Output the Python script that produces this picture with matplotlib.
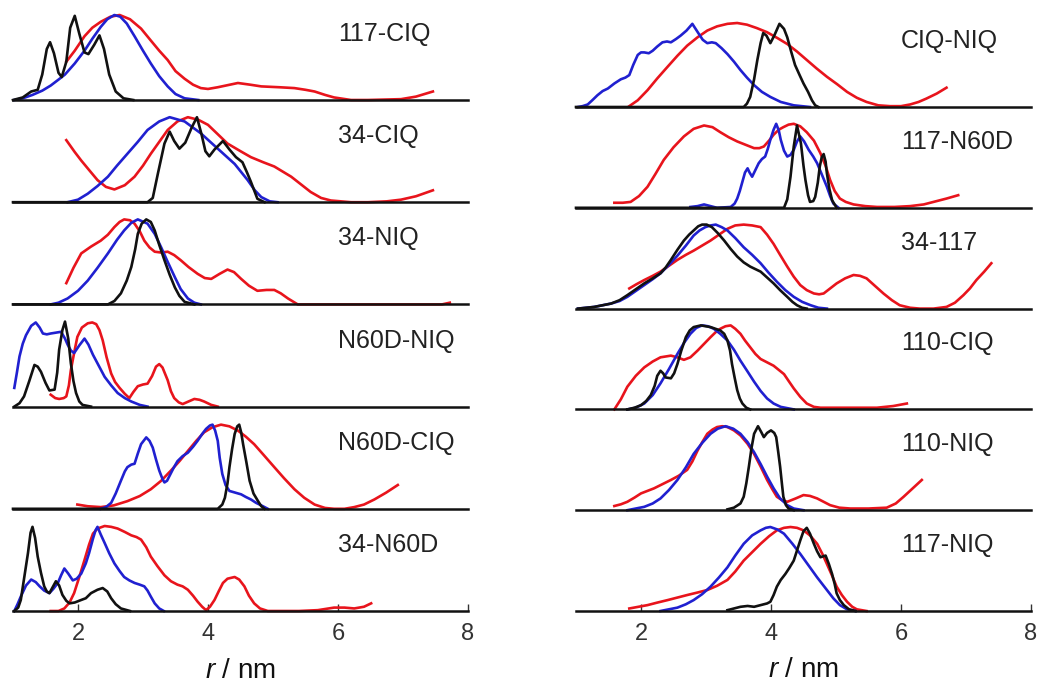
import matplotlib
matplotlib.use("Agg")
import matplotlib.pyplot as plt

plt.rcParams["font.family"] = ["Liberation Sans", "DejaVu Sans"]
plt.rcParams["mathtext.fontset"] = "custom"
plt.rcParams["mathtext.it"] = "Liberation Sans:italic"
plt.rcParams["mathtext.rm"] = "Liberation Sans"

RED = "#e8141c"
BLUE = "#2020d0"
BLACK = "#111111"

# ---- left column ----
# 117-CIQ
l1_k_x = [1.0, 1.15, 1.28, 1.38, 1.45, 1.52, 1.57, 1.63, 1.70, 1.75, 1.82, 1.88, 1.95, 2.02, 2.10, 2.16, 2.25, 2.33, 2.40, 2.48, 2.58, 2.70, 2.85]
l1_k_y = [0, 0.03, 0.10, 0.12, 0.30, 0.60, 0.68, 0.55, 0.32, 0.27, 0.45, 0.85, 0.99, 0.78, 0.56, 0.54, 0.65, 0.76, 0.60, 0.30, 0.10, 0.02, 0]
l1_b_x = [1.02, 1.15, 1.30, 1.45, 1.58, 1.70, 1.80, 1.95, 2.10, 2.22, 2.35, 2.45, 2.56, 2.65, 2.75, 2.87, 3.0, 3.12, 3.25, 3.38, 3.5, 3.64, 3.85]
l1_b_y = [0, 0.02, 0.06, 0.11, 0.17, 0.24, 0.30, 0.43, 0.58, 0.72, 0.86, 0.95, 1.0, 0.98, 0.90, 0.75, 0.58, 0.43, 0.28, 0.16, 0.07, 0.02, 0]
l1_r_x = [1.82, 1.95, 2.1, 2.22, 2.35, 2.5, 2.64, 2.8, 2.97, 3.12, 3.25, 3.38, 3.5, 3.64, 3.77, 3.89, 4.0, 4.15, 4.46, 4.65, 4.82, 5.1, 5.33, 5.5, 5.64, 5.8, 5.94, 6.2, 6.46, 6.97, 7.2, 7.46]
l1_r_y = [0.45, 0.58, 0.75, 0.85, 0.92, 0.98, 1.0, 0.95, 0.84, 0.7, 0.58, 0.47, 0.34, 0.25, 0.18, 0.14, 0.13, 0.15, 0.2, 0.18, 0.16, 0.15, 0.14, 0.12, 0.10, 0.06, 0.03, 0.0, 0, 0.01, 0.04, 0.1]

# 34-CIQ
l2_k_x = [1.0, 3.07, 3.15, 3.23, 3.33, 3.41, 3.48, 3.56, 3.65, 3.75, 3.83, 3.9, 3.96, 4.02, 4.1, 4.23, 4.33, 4.43, 4.53, 4.6, 4.66, 4.76, 4.87]
l2_k_y = [0, 0, 0.05, 0.34, 0.69, 0.83, 0.72, 0.63, 0.7, 0.88, 1.0, 0.8, 0.6, 0.54, 0.62, 0.72, 0.62, 0.53, 0.47, 0.35, 0.24, 0.04, 0]
l2_b_x = [1.84, 2.0, 2.15, 2.3, 2.46, 2.6, 2.76, 2.92, 3.07, 3.25, 3.41, 3.64, 3.89, 4.15, 4.41, 4.61, 4.72, 4.82, 4.95, 5.07]
l2_b_y = [0, 0.03, 0.1, 0.19, 0.3, 0.43, 0.57, 0.71, 0.85, 0.95, 1.0, 0.95, 0.81, 0.63, 0.45, 0.26, 0.14, 0.06, 0.01, 0]
l2_r_x = [1.82, 1.95, 2.05, 2.18, 2.3, 2.43, 2.56, 2.72, 2.87, 3.0, 3.12, 3.25, 3.38, 3.53, 3.69, 3.85, 4.0, 4.15, 4.3, 4.5, 4.66, 4.85, 5.02, 5.15, 5.28, 5.43, 5.58, 5.74, 5.89, 6.2, 6.46, 6.75, 6.97, 7.2, 7.46]
l2_r_y = [0.73, 0.59, 0.49, 0.37, 0.26, 0.18, 0.15, 0.2, 0.3, 0.43, 0.57, 0.71, 0.85, 0.95, 1.0, 0.97, 0.91, 0.8, 0.69, 0.6, 0.53, 0.47, 0.42, 0.36, 0.3, 0.21, 0.12, 0.05, 0.02, 0, 0, 0.01, 0.03, 0.07, 0.14]

# 34-NIQ
l3_k_x = [1.0, 2.46, 2.56, 2.66, 2.75, 2.82, 2.88, 2.92, 2.98, 3.05, 3.12, 3.18, 3.25, 3.33, 3.41, 3.49, 3.56, 3.64, 3.79]
l3_k_y = [0, 0, 0.04, 0.13, 0.28, 0.44, 0.65, 0.83, 0.95, 1.0, 0.97, 0.87, 0.7, 0.52, 0.35, 0.2, 0.1, 0.03, 0]
l3_b_x = [1.58, 1.7, 1.84, 2.0, 2.15, 2.3, 2.46, 2.6, 2.71, 2.82, 2.92, 3.07, 3.18, 3.28, 3.38, 3.49, 3.58, 3.69, 3.79, 3.89]
l3_b_y = [0, 0.02, 0.07, 0.16, 0.28, 0.43, 0.6, 0.76, 0.87, 0.96, 1.0, 0.95, 0.83, 0.67, 0.5, 0.32, 0.18, 0.07, 0.02, 0]
l3_r_x = [1.82, 1.93, 2.05, 2.2, 2.35, 2.46, 2.56, 2.64, 2.71, 2.8, 2.87, 2.95, 3.02, 3.1, 3.18, 3.28, 3.38, 3.48, 3.58, 3.7, 3.84, 3.95, 4.05, 4.18, 4.3, 4.4, 4.51, 4.63, 4.76, 4.9, 5.02, 5.12, 5.23, 5.38, 7.6, 7.72]
l3_r_y = [0.25, 0.43, 0.6, 0.68, 0.75, 0.82, 0.91, 0.97, 1.0, 0.99, 0.95, 0.86, 0.75, 0.67, 0.62, 0.61, 0.62, 0.58, 0.52, 0.44, 0.36, 0.31, 0.3, 0.36, 0.41, 0.38, 0.3, 0.22, 0.16, 0.17, 0.17, 0.13, 0.07, 0.0, 0.0, 0.02]

# N60D-NIQ
l4_k_x = [1.02, 1.1, 1.17, 1.25, 1.33, 1.38, 1.43, 1.5, 1.56, 1.64, 1.68, 1.71, 1.76, 1.8, 1.85, 1.89, 1.93, 1.97, 2.02, 2.07, 2.2]
l4_k_y = [0, 0.04, 0.12, 0.3, 0.49, 0.47, 0.41, 0.28, 0.19, 0.2, 0.4, 0.67, 0.9, 1.0, 0.8, 0.51, 0.3, 0.16, 0.06, 0.02, 0]
l4_b_x = [1.02, 1.06, 1.1, 1.15, 1.2, 1.28, 1.35, 1.41, 1.46, 1.52, 1.58, 1.66, 1.74, 1.8, 1.84, 1.89, 1.94, 2.02, 2.1, 2.16, 2.23, 2.32, 2.41, 2.51, 2.61, 2.72, 2.82, 2.95, 3.07]
l4_b_y = [0.22, 0.4, 0.59, 0.74, 0.84, 0.95, 0.99, 0.93, 0.86, 0.85, 0.86, 0.87, 0.88, 0.8, 0.73, 0.66, 0.63, 0.72, 0.8, 0.73, 0.61, 0.48, 0.35, 0.25, 0.16, 0.1, 0.06, 0.02, 0]
l4_r_x = [1.58, 1.65, 1.71, 1.78, 1.82, 1.86, 1.89, 1.94, 1.99, 2.06, 2.15, 2.22, 2.28, 2.33, 2.38, 2.44, 2.51, 2.57, 2.64, 2.72, 2.79, 2.85, 2.92, 3.0, 3.07, 3.14, 3.2, 3.25, 3.3, 3.38, 3.43, 3.48, 3.55, 3.61, 3.7, 3.79, 3.87, 3.94, 4.05, 4.15]
l4_r_y = [0.14, 0.1, 0.09, 0.1, 0.12, 0.25, 0.43, 0.63, 0.82, 0.93, 0.98, 0.99, 0.97, 0.9, 0.78, 0.58, 0.39, 0.29, 0.22, 0.15, 0.1, 0.17, 0.24, 0.26, 0.27, 0.36, 0.47, 0.5, 0.46, 0.31, 0.18, 0.1, 0.05, 0.03, 0.06, 0.09, 0.08, 0.06, 0.02, 0]

# N60D-CIQ
l5_k_x = [1.0, 4.15, 4.22, 4.26, 4.3, 4.33, 4.37, 4.41, 4.45, 4.48, 4.51, 4.54, 4.59, 4.64, 4.7, 4.77, 4.82, 4.87]
l5_k_y = [0, 0, 0.05, 0.13, 0.3, 0.49, 0.7, 0.88, 0.97, 0.99, 0.9, 0.76, 0.55, 0.33, 0.18, 0.09, 0.03, 0]
l5_b_x = [2.35, 2.43, 2.51, 2.58, 2.66, 2.72, 2.76, 2.82, 2.87, 2.92, 2.97, 3.05, 3.1, 3.15, 3.2, 3.25, 3.3, 3.33, 3.37, 3.41, 3.47, 3.53, 3.61, 3.69, 3.77, 3.84, 3.91, 3.97, 4.03, 4.07, 4.11, 4.15, 4.18, 4.22, 4.27, 4.33, 4.42, 4.51, 4.58, 4.66, 4.74, 4.82, 4.92]
l5_b_y = [0, 0.02, 0.07, 0.18, 0.33, 0.44, 0.49, 0.52, 0.53, 0.65, 0.76, 0.84, 0.8, 0.72, 0.58, 0.45, 0.35, 0.31, 0.33, 0.39, 0.48, 0.56, 0.62, 0.66, 0.73, 0.8, 0.88, 0.94, 0.98, 0.99, 0.92, 0.8, 0.6, 0.41, 0.28, 0.21, 0.19, 0.17, 0.14, 0.11, 0.07, 0.04, 0]
l5_r_x = [1.99, 2.15, 2.35, 2.55, 2.76, 2.95, 3.12, 3.28, 3.43, 3.56, 3.69, 3.82, 3.94, 4.07, 4.2, 4.33, 4.46, 4.58, 4.71, 4.86, 5.02, 5.17, 5.33, 5.48, 5.64, 5.8, 5.94, 6.1, 6.25, 6.4, 6.56, 6.74, 6.92]
l5_r_y = [0.05, 0.03, 0.02, 0.04, 0.09, 0.15, 0.23, 0.33, 0.45, 0.56, 0.68, 0.8, 0.9, 0.96, 0.99, 0.97, 0.92, 0.85, 0.76, 0.63, 0.49, 0.36, 0.23, 0.13, 0.05, 0.01, 0, 0, 0.02, 0.05, 0.11, 0.19, 0.28]

# 34-N60D
l6_k_x = [1.02, 1.08, 1.12, 1.17, 1.23, 1.27, 1.3, 1.34, 1.38, 1.43, 1.48, 1.52, 1.56, 1.61, 1.66, 1.71, 1.76, 1.82, 1.87, 1.95, 2.05, 2.12, 2.2, 2.3, 2.38, 2.45, 2.51, 2.58, 2.66, 2.8]
l6_k_y = [0, 0.04, 0.13, 0.38, 0.68, 0.92, 0.99, 0.86, 0.64, 0.45, 0.29, 0.23, 0.21, 0.28, 0.35, 0.3, 0.19, 0.12, 0.09, 0.1, 0.13, 0.15, 0.21, 0.25, 0.27, 0.23, 0.15, 0.08, 0.03, 0]
l6_b_x = [1.02, 1.07, 1.12, 1.2, 1.28, 1.35, 1.41, 1.48, 1.56, 1.62, 1.69, 1.74, 1.79, 1.85, 1.92, 1.98, 2.05, 2.12, 2.17, 2.23, 2.27, 2.3, 2.35, 2.41, 2.48, 2.56, 2.64, 2.71, 2.79, 2.87, 2.95, 3.02, 3.07, 3.12, 3.18, 3.25, 3.32]
l6_b_y = [0, 0.08, 0.17, 0.3, 0.37, 0.34, 0.29, 0.24, 0.21, 0.26, 0.33, 0.42, 0.5, 0.44, 0.36, 0.38, 0.44, 0.56, 0.68, 0.85, 0.95, 0.99, 0.9, 0.8, 0.68, 0.56, 0.47, 0.4, 0.36, 0.33, 0.31, 0.29, 0.24, 0.17, 0.09, 0.03, 0]
l6_r_x = [1.58, 1.7, 1.79, 1.87, 1.94, 2.02, 2.1, 2.17, 2.23, 2.3, 2.41, 2.51, 2.61, 2.72, 2.82, 2.9, 2.97, 3.05, 3.12, 3.22, 3.33, 3.43, 3.53, 3.61, 3.69, 3.77, 3.84, 3.91, 3.97, 4.03, 4.1, 4.17, 4.23, 4.3, 4.41, 4.48, 4.56, 4.63, 4.71, 4.8, 4.92, 5.4, 5.69, 5.94, 6.1, 6.25, 6.4, 6.51]
l6_r_y = [0, 0.0, 0.03, 0.1, 0.21, 0.4, 0.6, 0.78, 0.91, 0.97, 1.0, 0.99, 0.97, 0.93, 0.89, 0.87, 0.84, 0.75, 0.64, 0.53, 0.42, 0.35, 0.31, 0.29, 0.25, 0.18, 0.11, 0.05, 0.01, 0.05, 0.13, 0.24, 0.33, 0.38, 0.4, 0.37, 0.29, 0.18, 0.09, 0.03, 0, 0, 0.01, 0.04, 0.04, 0.03, 0.05, 0.09]

# ---- right column ----
# CIQ-NIQ
r1_k_x = [1.0, 3.58, 3.63, 3.68, 3.74, 3.79, 3.84, 3.88, 3.93, 3.99, 4.05, 4.13, 4.2, 4.25, 4.31, 4.37, 4.44, 4.5, 4.57, 4.63, 4.68, 4.73]
r1_k_y = [0, 0, 0.04, 0.12, 0.33, 0.56, 0.76, 0.88, 0.85, 0.76, 0.85, 0.99, 0.93, 0.83, 0.66, 0.5, 0.38, 0.28, 0.18, 0.08, 0.02, 0]
r1_b_x = [1.03, 1.1, 1.18, 1.25, 1.33, 1.41, 1.49, 1.59, 1.69, 1.76, 1.82, 1.88, 1.95, 2.0, 2.05, 2.12, 2.18, 2.25, 2.33, 2.4, 2.46, 2.54, 2.61, 2.7, 2.79, 2.84, 2.89, 2.95, 3.02, 3.09, 3.15, 3.24, 3.33, 3.43, 3.53, 3.63, 3.74, 3.86, 3.99, 4.15, 4.35, 4.6]
r1_b_y = [0, 0.01, 0.03, 0.08, 0.14, 0.19, 0.22, 0.28, 0.33, 0.35, 0.38, 0.5, 0.62, 0.65, 0.65, 0.64, 0.67, 0.72, 0.77, 0.78, 0.77, 0.81, 0.85, 0.91, 0.99, 0.93, 0.87, 0.8, 0.76, 0.77, 0.76, 0.7, 0.63, 0.54, 0.44, 0.35, 0.26, 0.18, 0.12, 0.06, 0.02, 0]
r1_r_x = [1.82, 1.95, 2.1, 2.25, 2.41, 2.56, 2.71, 2.87, 3.02, 3.17, 3.33, 3.48, 3.63, 3.78, 3.94, 4.1, 4.25, 4.4, 4.55, 4.7, 4.86, 5.02, 5.17, 5.32, 5.47, 5.65, 5.83, 6.0, 6.14, 6.27, 6.39, 6.55, 6.7]
r1_r_y = [0.01, 0.08, 0.2, 0.34, 0.48, 0.61, 0.73, 0.83, 0.91, 0.96, 0.99, 1.0, 0.98, 0.94, 0.89, 0.82, 0.75, 0.66, 0.56, 0.46, 0.36, 0.27, 0.18, 0.11, 0.06, 0.02, 0.01, 0.01, 0.03, 0.06, 0.1, 0.16, 0.23]

# 117-N60D
r2_k_x = [1.0, 4.2, 4.25, 4.3, 4.35, 4.4, 4.46, 4.5, 4.53, 4.57, 4.6, 4.65, 4.68, 4.72, 4.75, 4.78, 4.81, 4.84, 4.86, 4.9, 4.94, 5.01]
r2_k_y = [0, 0, 0.1, 0.37, 0.73, 0.98, 0.77, 0.5, 0.33, 0.15, 0.07, 0.08, 0.13, 0.3, 0.49, 0.6, 0.64, 0.55, 0.41, 0.22, 0.09, 0]
r2_b_x = [2.76, 2.87, 2.97, 3.07, 3.17, 3.38, 3.44, 3.48, 3.52, 3.56, 3.6, 3.64, 3.67, 3.71, 3.76, 3.81, 3.86, 3.91, 3.95, 3.99, 4.04, 4.08, 4.12, 4.15, 4.2, 4.25, 4.3, 4.35, 4.4, 4.45, 4.51, 4.58, 4.65, 4.71, 4.78, 4.86, 4.91, 4.96, 5.04]
r2_b_y = [0.01, 0.02, 0.04, 0.02, 0.0, 0.01, 0.05, 0.11, 0.2, 0.31, 0.42, 0.47, 0.42, 0.37, 0.45, 0.53, 0.58, 0.61, 0.7, 0.81, 0.93, 1.0, 0.92, 0.81, 0.68, 0.61, 0.63, 0.69, 0.79, 0.85, 0.79, 0.69, 0.61, 0.53, 0.4, 0.25, 0.14, 0.05, 0]
r2_r_x = [1.59, 1.72, 1.84, 1.97, 2.1, 2.22, 2.35, 2.5, 2.66, 2.81, 2.97, 3.1, 3.22, 3.35, 3.48, 3.61, 3.74, 3.82, 3.89, 3.97, 4.04, 4.12, 4.19, 4.27, 4.35, 4.45, 4.55, 4.66, 4.76, 4.84, 4.91, 4.98, 5.06, 5.15, 5.27, 5.45, 5.63, 5.9, 6.14, 6.35, 6.5, 6.7, 6.88]
r2_r_y = [0.06, 0.06, 0.07, 0.14, 0.25, 0.4, 0.57, 0.72, 0.85, 0.94, 0.98, 0.96, 0.9, 0.84, 0.79, 0.75, 0.71, 0.71, 0.73, 0.8, 0.87, 0.93, 0.96, 0.99, 1.0, 0.97, 0.9, 0.8, 0.65, 0.5, 0.33, 0.2, 0.11, 0.07, 0.04, 0.02, 0.01, 0.01, 0.02, 0.04, 0.07, 0.11, 0.15]

# 34-117
r3_k_x = [1.03, 1.28, 1.54, 1.67, 1.79, 1.92, 2.05, 2.18, 2.3, 2.38, 2.46, 2.56, 2.66, 2.74, 2.81, 2.88, 2.94, 3.01, 3.09, 3.18, 3.28, 3.38, 3.48, 3.58, 3.68, 3.76, 3.84, 3.94, 4.04, 4.14, 4.25, 4.33, 4.4, 4.48, 4.55]
r3_k_y = [0, 0.02, 0.06, 0.1, 0.16, 0.23, 0.3, 0.36, 0.42, 0.49, 0.58, 0.7, 0.81, 0.88, 0.93, 0.98, 1.0, 1.0, 0.97, 0.9, 0.81, 0.71, 0.62, 0.55, 0.5, 0.47, 0.44, 0.37, 0.3, 0.22, 0.14, 0.08, 0.04, 0.01, 0]
r3_b_x = [1.03, 1.28, 1.54, 1.67, 1.79, 1.92, 2.05, 2.18, 2.3, 2.43, 2.56, 2.69, 2.81, 2.9, 2.99, 3.07, 3.15, 3.24, 3.33, 3.45, 3.58, 3.71, 3.84, 3.96, 4.09, 4.22, 4.35, 4.48, 4.61, 4.73, 4.86]
r3_b_y = [0, 0.02, 0.06, 0.09, 0.14, 0.21, 0.28, 0.35, 0.42, 0.52, 0.63, 0.75, 0.87, 0.93, 0.97, 0.99, 1.0, 0.97, 0.93, 0.84, 0.73, 0.64, 0.54, 0.43, 0.32, 0.22, 0.14, 0.08, 0.04, 0.01, 0]
r3_r_x = [1.82, 1.93, 2.05, 2.18, 2.3, 2.43, 2.56, 2.69, 2.81, 2.94, 3.07, 3.2, 3.33, 3.45, 3.58, 3.71, 3.84, 3.94, 4.04, 4.14, 4.25, 4.35, 4.45, 4.55, 4.66, 4.74, 4.81, 4.91, 5.01, 5.14, 5.27, 5.37, 5.47, 5.6, 5.73, 5.86, 5.98, 6.14, 6.29, 6.5, 6.7, 6.83, 6.96, 7.06, 7.16, 7.28, 7.39]
r3_r_y = [0.24, 0.29, 0.34, 0.39, 0.44, 0.51, 0.58, 0.64, 0.69, 0.75, 0.81, 0.88, 0.95, 0.99, 1.0, 0.99, 0.97, 0.88, 0.77, 0.64, 0.5, 0.38, 0.28, 0.22, 0.18, 0.17, 0.18, 0.24, 0.3, 0.36, 0.4, 0.39, 0.36, 0.27, 0.18, 0.1, 0.04, 0.01, 0, 0, 0.02, 0.07, 0.16, 0.24, 0.34, 0.44, 0.54]

# 110-CIQ
r4_k_x = [1.79, 1.9, 2.0, 2.08, 2.15, 2.21, 2.25, 2.3, 2.34, 2.38, 2.46, 2.51, 2.56, 2.62, 2.69, 2.75, 2.81, 2.92, 3.07, 3.22, 3.28, 3.33, 3.37, 3.4, 3.44, 3.48, 3.52, 3.56, 3.62, 3.68]
r4_k_y = [0, 0.02, 0.05, 0.1, 0.17, 0.28, 0.4, 0.46, 0.43, 0.38, 0.37, 0.43, 0.54, 0.7, 0.86, 0.94, 0.98, 1.0, 0.98, 0.94, 0.9, 0.82, 0.7, 0.54, 0.38, 0.23, 0.13, 0.07, 0.02, 0]
r4_b_x = [1.79, 1.92, 2.05, 2.18, 2.3, 2.43, 2.56, 2.66, 2.76, 2.85, 2.94, 3.03, 3.12, 3.22, 3.33, 3.43, 3.53, 3.64, 3.74, 3.84, 3.94, 4.04, 4.15, 4.35]
r4_b_y = [0, 0.02, 0.07, 0.17, 0.31, 0.48, 0.66, 0.79, 0.9, 0.97, 1.0, 0.99, 0.96, 0.9, 0.82, 0.71, 0.58, 0.45, 0.33, 0.22, 0.13, 0.07, 0.03, 0]
r4_r_x = [1.59, 1.69, 1.79, 1.92, 2.05, 2.18, 2.3, 2.46, 2.56, 2.66, 2.76, 2.87, 2.97, 3.07, 3.15, 3.22, 3.3, 3.38, 3.45, 3.53, 3.6, 3.68, 3.76, 3.84, 3.94, 4.04, 4.12, 4.2, 4.27, 4.35, 4.45, 4.55, 4.66, 4.76, 5.12, 5.63, 5.88, 6.09]
r4_r_y = [0, 0.12, 0.27, 0.4, 0.5, 0.57, 0.62, 0.64, 0.62, 0.59, 0.62, 0.7, 0.78, 0.86, 0.92, 0.96, 0.99, 1.0, 0.96, 0.9, 0.82, 0.74, 0.66, 0.6, 0.56, 0.52, 0.47, 0.42, 0.34, 0.25, 0.15, 0.07, 0.03, 0.02, 0.02, 0.02, 0.04, 0.07]

# 110-NIQ
r5_k_x = [3.33, 3.43, 3.53, 3.58, 3.62, 3.66, 3.7, 3.74, 3.8, 3.85, 3.89, 3.94, 4.0, 4.05, 4.08, 4.11, 4.14, 4.17, 4.19, 4.23, 4.27, 4.35]
r5_k_y = [0.01, 0.03, 0.08, 0.16, 0.32, 0.52, 0.74, 0.91, 1.0, 0.93, 0.87, 0.92, 0.95, 0.92, 0.87, 0.7, 0.52, 0.3, 0.16, 0.06, 0.02, 0]
r5_b_x = [1.79, 1.92, 2.05, 2.18, 2.3, 2.43, 2.56, 2.69, 2.81, 2.94, 3.07, 3.18, 3.3, 3.42, 3.53, 3.64, 3.74, 3.84, 3.94, 4.04, 4.14, 4.25, 4.35, 4.5]
r5_b_y = [0, 0.02, 0.04, 0.08, 0.14, 0.24, 0.36, 0.51, 0.67, 0.8, 0.91, 0.97, 1.0, 0.97, 0.91, 0.81, 0.69, 0.55, 0.4, 0.26, 0.14, 0.06, 0.02, 0]
r5_r_x = [1.59, 1.69, 1.79, 1.9, 2.0, 2.1, 2.2, 2.33, 2.46, 2.58, 2.71, 2.79, 2.87, 2.95, 3.02, 3.1, 3.17, 3.25, 3.33, 3.43, 3.53, 3.64, 3.74, 3.84, 3.94, 4.02, 4.09, 4.17, 4.25, 4.38, 4.5, 4.6, 4.71, 4.81, 4.91, 5.05, 5.22, 5.5, 5.78, 5.92, 6.04, 6.18, 6.32]
r5_r_y = [0.05, 0.07, 0.1, 0.15, 0.2, 0.23, 0.26, 0.31, 0.36, 0.41, 0.48, 0.58, 0.71, 0.82, 0.91, 0.96, 0.99, 1.0, 0.99, 0.95, 0.89, 0.79, 0.67, 0.52, 0.36, 0.25, 0.16, 0.12, 0.1, 0.14, 0.18, 0.17, 0.14, 0.1, 0.06, 0.03, 0.02, 0.02, 0.03, 0.08, 0.16, 0.26, 0.36]

# 117-NIQ
r6_k_x = [3.33, 3.43, 3.53, 3.64, 3.74, 3.84, 3.94, 3.99, 4.04, 4.09, 4.15, 4.22, 4.28, 4.35, 4.4, 4.45, 4.5, 4.55, 4.6, 4.66, 4.71, 4.76, 4.8, 4.84, 4.89, 4.94, 4.98, 5.01, 5.06, 5.12, 5.2, 5.3]
r6_k_y = [0.01, 0.03, 0.05, 0.06, 0.05, 0.07, 0.09, 0.11, 0.19, 0.29, 0.37, 0.44, 0.51, 0.6, 0.72, 0.84, 0.95, 0.99, 0.92, 0.8, 0.71, 0.64, 0.65, 0.66, 0.56, 0.44, 0.32, 0.21, 0.13, 0.07, 0.02, 0]
r6_b_x = [2.3, 2.43, 2.56, 2.69, 2.81, 2.94, 3.07, 3.2, 3.33, 3.45, 3.58, 3.71, 3.84, 3.92, 3.99, 4.1, 4.2, 4.33, 4.45, 4.58, 4.71, 4.84, 4.96, 5.06, 5.17, 5.3]
r6_b_y = [0, 0.02, 0.04, 0.08, 0.13, 0.2, 0.29, 0.4, 0.52, 0.66, 0.8, 0.9, 0.96, 0.99, 1.0, 0.97, 0.92, 0.8, 0.68, 0.54, 0.4, 0.27, 0.15, 0.07, 0.02, 0]
r6_r_x = [1.82, 1.96, 2.1, 2.25, 2.41, 2.56, 2.71, 2.87, 3.02, 3.17, 3.33, 3.45, 3.58, 3.71, 3.84, 3.97, 4.09, 4.2, 4.3, 4.4, 4.5, 4.6, 4.71, 4.79, 4.86, 4.94, 5.01, 5.09, 5.17, 5.25, 5.32, 5.47]
r6_r_y = [0.03, 0.05, 0.07, 0.1, 0.13, 0.16, 0.19, 0.22, 0.25, 0.3, 0.37, 0.47, 0.6, 0.7, 0.8, 0.89, 0.96, 0.99, 1.0, 0.99, 0.96, 0.9, 0.8, 0.68, 0.56, 0.42, 0.29, 0.19, 0.11, 0.05, 0.02, 0]

left_labels = ["117-CIQ", "34-CIQ", "34-NIQ", "N60D-NIQ", "N60D-CIQ", "34-N60D"]
right_labels = ["CIQ-NIQ", "117-N60D", "34-117", "110-CIQ", "110-NIQ", "117-NIQ"]

left_data = [
    ((l1_k_x, l1_k_y), (l1_b_x, l1_b_y), (l1_r_x, l1_r_y)),
    ((l2_k_x, l2_k_y), (l2_b_x, l2_b_y), (l2_r_x, l2_r_y)),
    ((l3_k_x, l3_k_y), (l3_b_x, l3_b_y), (l3_r_x, l3_r_y)),
    ((l4_k_x, l4_k_y), (l4_b_x, l4_b_y), (l4_r_x, l4_r_y)),
    ((l5_k_x, l5_k_y), (l5_b_x, l5_b_y), (l5_r_x, l5_r_y)),
    ((l6_k_x, l6_k_y), (l6_b_x, l6_b_y), (l6_r_x, l6_r_y)),
]
right_data = [
    ((r1_k_x, r1_k_y), (r1_b_x, r1_b_y), (r1_r_x, r1_r_y)),
    ((r2_k_x, r2_k_y), (r2_b_x, r2_b_y), (r2_r_x, r2_r_y)),
    ((r3_k_x, r3_k_y), (r3_b_x, r3_b_y), (r3_r_x, r3_r_y)),
    ((r4_k_x, r4_k_y), (r4_b_x, r4_b_y), (r4_r_x, r4_r_y)),
    ((r5_k_x, r5_k_y), (r5_b_x, r5_b_y), (r5_r_x, r5_r_y)),
    ((r6_k_x, r6_k_y), (r6_b_x, r6_b_y), (r6_r_x, r6_r_y)),
]

W, H = 1039, 687
fig = plt.figure(figsize=(W / 100, H / 100), dpi=100)


def draw_column(x0, x1, first_base, step, ppu, labels, data):
    for i, (label, curves) in enumerate(zip(labels, data)):
        base = first_base + step * i
        ax = fig.add_axes([x0 / W, 1 - base / H, (x1 - x0) / W, step / H])
        ax.set_xlim(1, 8)
        ax.set_ylim(0, step / ppu)
        (kx, ky), (bx, by), (rx, ry) = curves
        ax.plot(rx, ry, color=RED, lw=1.9, clip_on=False, solid_joinstyle="round")
        ax.plot(bx, by, color=BLUE, lw=1.9, clip_on=False, solid_joinstyle="round")
        ax.plot(kx, ky, color=BLACK, lw=1.9, clip_on=False, solid_joinstyle="round")
        for s in ["top", "left", "right"]:
            ax.spines[s].set_visible(False)
        ax.spines["bottom"].set_linewidth(1.8)
        ax.spines["bottom"].set_color(BLACK)
        ax.set_yticks([])
        ax.patch.set_alpha(0)
        ax.text(6.0, 66 / ppu, label, fontsize=18, color="#222222", ha="left", va="center")
        if i == len(labels) - 1:
            ax.set_xticks([2, 4, 6, 8])
            ax.tick_params(axis="x", direction="in", length=5, width=1, colors="#333333",
                           labelsize=17, pad=9)
            ax.set_xlabel(r"$\mathit{r}$ / nm", fontsize=20, color="#111111", va="top")
            ax.xaxis.set_label_coords(0.5, -0.46)
        else:
            ax.set_xticks([])


draw_column(13, 468, 100, 102.2, 85, left_labels, left_data)
draw_column(576, 1031, 107, 100.8, 84, right_labels, right_data)

fig.savefig("out.png", dpi=100)
